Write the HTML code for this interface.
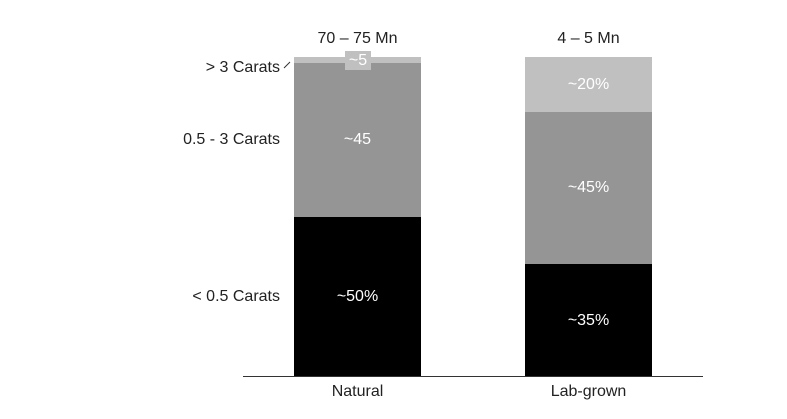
<!DOCTYPE html>
<html><head><style>
body{margin:0;background:#fff;width:787px;height:419px;overflow:hidden;position:relative;font-family:"Liberation Sans",sans-serif;font-size:16px;color:#222}
.a{position:absolute}
.w{color:#fff;text-align:center}
</style></head><body>
<div class="a" style="left:294px;top:57px;width:127px;height:6px;background:#c0c0c0"></div>
<div class="a" style="left:294px;top:63px;width:127px;height:154px;background:#959595"></div>
<div class="a" style="left:294px;top:217px;width:127px;height:160px;background:#000"></div>
<div class="a" style="left:525px;top:57px;width:127px;height:55px;background:#c0c0c0"></div>
<div class="a" style="left:525px;top:112px;width:127px;height:152px;background:#959595"></div>
<div class="a" style="left:525px;top:264px;width:127px;height:113px;background:#000"></div>
<div class="a" style="left:243px;top:376px;width:460px;height:1px;background:#333"></div>
<div class="a" style="left:345px;top:51px;width:26px;height:19px;background:#c0c0c0;color:#fff;text-align:center;line-height:20px">~5</div>
<div class="a" style="left:294px;top:30px;width:127px;text-align:center">70 – 75 Mn</div>
<div class="a" style="left:525px;top:30px;width:127px;text-align:center">4 – 5 Mn</div>
<div class="a w" style="left:294px;top:131px;width:127px">~45</div>
<div class="a w" style="left:294px;top:288px;width:127px">~50%</div>
<div class="a w" style="left:525px;top:76px;width:127px">~20%</div>
<div class="a w" style="left:525px;top:179px;width:127px">~45%</div>
<div class="a w" style="left:525px;top:312px;width:127px">~35%</div>
<div class="a" style="left:294px;top:383px;width:127px;text-align:center">Natural</div>
<div class="a" style="left:525px;top:383px;width:127px;text-align:center">Lab-grown</div>
<div class="a" style="right:507px;top:59px">&gt; 3 Carats</div>
<svg class="a" style="left:282px;top:60px" width="10" height="10"><line x1="2" y1="8" x2="8" y2="2" stroke="#333"/></svg>
<div class="a" style="right:507px;top:131px">0.5 - 3 Carats</div>
<div class="a" style="right:507px;top:288px">&lt; 0.5 Carats</div>
</body></html>
